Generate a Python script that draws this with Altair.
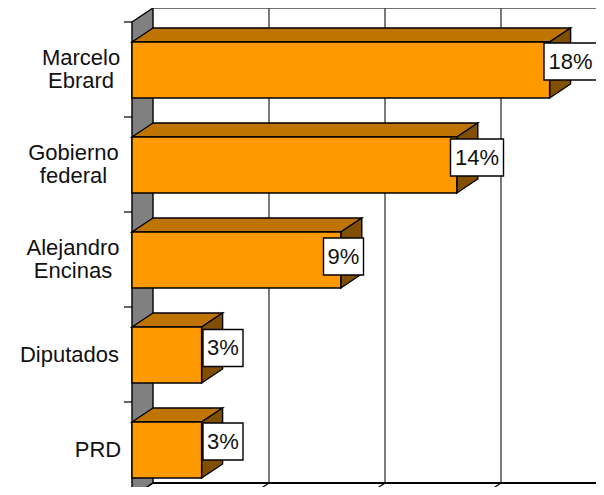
import altair as alt
import pandas as pd

lines = [["Marcelo", "Ebrard"], ["Gobierno", "federal"], ["Alejandro", "Encinas"], ["Diputados"], ["PRD"]]
values = [18, 14, 9, 3, 3]
labels = ["18%", "14%", "9%", "3%", "3%"]
grid_values = [0, 5, 10, 15, 20]
label_centers = [81, 73.5, 73, 69.5, 98]
box_centers = [(570.5, 61.5), (477, 157.5), (343.5, 256.5), (223, 348), (223, 441.5)]

PX_X, PX_Y = 23.2, 95.0
X0, Y0 = 132.0, 22.0
W, H = 588, 479
DX, DY = 21 / PX_X, 14 / PX_Y
TOP, BOT = 20 / PX_Y, 76 / PX_Y
FONT = "Liberation Sans"
FS = 22

fx = lambda px: (px - X0) / PX_X
fy = lambda py: (py - Y0) / PX_Y
xs = alt.Scale(domain=[fx(8), fx(8 + W)], nice=False, zero=False)
ys = alt.Scale(domain=[fy(8), fy(8 + H)], reverse=True, nice=False, zero=False)
X = lambda f: alt.X(f, type="quantitative", scale=xs, axis=None)
Y = lambda f: alt.Y(f, type="quantitative", scale=ys, axis=None)
X2 = lambda f: alt.X2(f)
Y2 = lambda f: alt.Y2(f)

n = len(values)
wall = pd.DataFrame({"x": [0, DX], "y": [0, -DY], "y2": [n, n - DY]})
grid = pd.DataFrame({"x": [v + DX for v in grid_values[1:]], "y": [-DY] * 4, "y2": [n - DY] * 4})
floor = pd.DataFrame({"x": [v for v in grid_values], "x2": [v + DX for v in grid_values],
                      "y": [n] * 5, "y2": [n - DY] * 5})
back = pd.DataFrame({"x": [DX, DX], "x2": [fx(8 + W), fx(8 + W)], "y": [-DY, n - DY], "w": [0, 1]})
ticks = pd.DataFrame({"x": [fx(124)] * (n + 1), "x2": [0] * (n + 1), "y": list(range(n + 1))})
front = pd.DataFrame({"x": [0] * n, "x2": values, "y": [i + TOP for i in range(n)], "y2": [i + BOT for i in range(n)]})

top_rows, side_rows = [], []
for i, v in enumerate(values):
    top_rows += [dict(c=i, x=0, x2=v, y=i + TOP), dict(c=i, x=DX, x2=v + DX, y=i + TOP - DY)]
    side_rows += [dict(c=i, x=v, y=i + TOP, y2=i + BOT), dict(c=i, x=v + DX, y=i + TOP - DY, y2=i + BOT - DY)]
top = pd.DataFrame(top_rows)
side = pd.DataFrame(side_rows)

boxes = []
for s, (bx, by) in zip(labels, box_centers):
    half = (53 if len(s) == 3 else 40) / 2 / PX_X
    cx, cy = fx(bx), fy(by)
    boxes.append(dict(x=cx - half, x2=cx + half, y=cy - 18.5 / PX_Y, y2=cy + 18.5 / PX_Y, cx=cx, cy=cy, t=s))
boxes = pd.DataFrame(boxes)

txt = []
for i, (ls, c) in enumerate(zip(lines, label_centers)):
    for j, l in enumerate(ls):
        py = Y0 + PX_Y * (i + 0.5) + (j - (len(ls) - 1) / 2) * 23
        txt.append(dict(x=fx(c), y=fy(py), t=l))
txt = pd.DataFrame(txt)

S = dict(stroke="black", strokeWidth=1.4)
layers = [
    alt.Chart(wall).mark_area(orient="vertical", fill="#808080", **S).encode(x=X("x"), y=Y("y"), y2=Y2("y2")),
    alt.Chart(grid).mark_rule(color="#222222", strokeWidth=1.2).encode(x=X("x"), y=Y("y"), y2=Y2("y2")),
    alt.Chart(back[back.w == 0]).mark_rule(color="#444444", strokeWidth=1.5).encode(x=X("x"), x2=X2("x2"), y=Y("y")),
    alt.Chart(back[back.w == 1]).mark_rule(color="black", strokeWidth=2).encode(x=X("x"), x2=X2("x2"), y=Y("y")),
    alt.Chart(floor).mark_rule(color="black", strokeWidth=1.2).encode(x=X("x"), x2=X2("x2"), y=Y("y"), y2=Y2("y2")),
    alt.Chart(ticks).mark_rule(color="black", strokeWidth=1.2).encode(x=X("x"), x2=X2("x2"), y=Y("y")),
    alt.Chart(top).mark_area(orient="horizontal", fill="#BF7300", **S).encode(x=X("x"), x2=X2("x2"), y=Y("y"), detail="c:N"),
    alt.Chart(side).mark_area(orient="vertical", fill="#805000", **S).encode(x=X("x"), y=Y("y"), y2=Y2("y2"), detail="c:N"),
    alt.Chart(front).mark_rect(fill="#FF9900", **S).encode(x=X("x"), x2=X2("x2"), y=Y("y"), y2=Y2("y2")),
    alt.Chart(boxes).mark_rect(fill="white", **S).encode(x=X("x"), x2=X2("x2"), y=Y("y"), y2=Y2("y2")),
    alt.Chart(boxes).mark_text(font=FONT, fontSize=FS, color="#111111", align="center", baseline="middle").encode(x=X("cx"), y=Y("cy"), text="t:N"),
    alt.Chart(txt).mark_text(font=FONT, fontSize=FS, color="#111111", align="center", baseline="middle").encode(x=X("x"), y=Y("y"), text="t:N"),
]
chart = alt.layer(*layers).properties(
    width=W, height=H, padding=0, autosize=alt.AutoSizeParams(type="none"), background="white"
).configure_view(stroke=None)
chart.save("out.html", embed_options={"renderer": "svg", "actions": False})
